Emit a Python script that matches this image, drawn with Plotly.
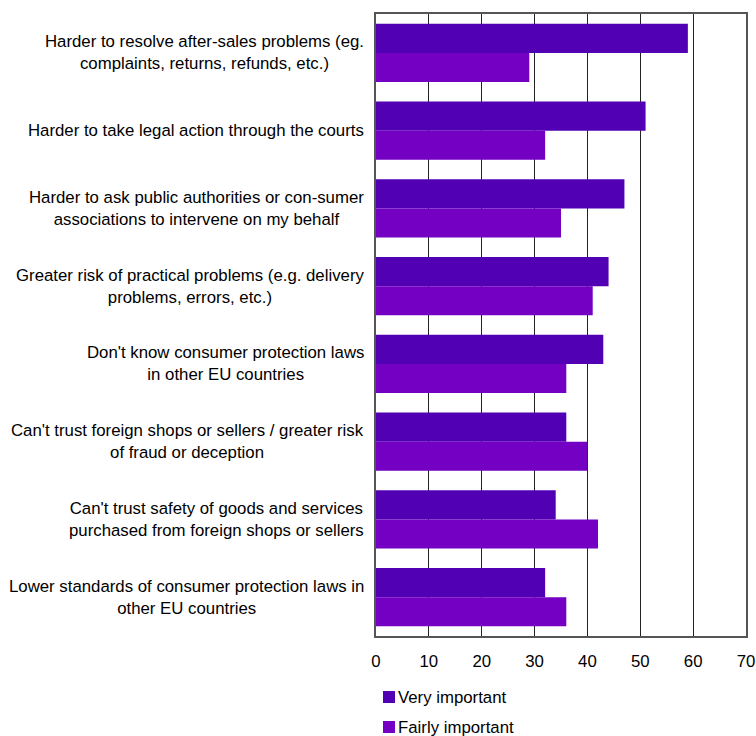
import plotly.graph_objects as go

categories = [
    "Harder to resolve after-sales problems (eg.<br>complaints, returns, refunds, etc.)",
    "Harder to take legal action through the courts",
    "Harder to ask public authorities or con-sumer<br>associations to intervene on my behalf",
    "Greater risk of practical problems (e.g. delivery<br>problems, errors, etc.)",
    "Don't know consumer protection laws<br>in other EU countries",
    "Can't trust foreign shops or sellers / greater risk<br>of fraud or deception",
    "Can't trust safety of goods and services<br>purchased from foreign shops or sellers",
    "Lower standards of consumer protection laws in<br>other EU countries",
]
very_important = [59, 51, 47, 44, 43, 36, 34, 32]
fairly_important = [29, 32, 35, 41, 36, 40, 42, 36]
x_ticks = [0, 10, 20, 30, 40, 50, 60, 70]
series_names = ["Very important", "Fairly important"]
series_colors = ["#5200B4", "#7300C3"]

FONT = "Liberation Sans, Arial, sans-serif"
FS = 16.8

fig = go.Figure()
for name, vals, col in zip(series_names, [very_important, fairly_important], series_colors):
    fig.add_trace(go.Bar(
        y=categories, x=vals, orientation="h", name=name,
        marker=dict(color=col, line_width=0), showlegend=False,
    ))

# category labels drawn as centred multi-line annotations
for cat in categories:
    fig.add_annotation(
        x=0, xref="paper", y=cat, yref="y",
        text=cat, showarrow=False, xanchor="right", xshift=-10,
        align="center", font=dict(family=FONT, size=FS, color="#000"),
    )

# compact legend below the axis: colour square plus label
for i, (name, col) in enumerate(zip(series_names, series_colors)):
    cy = -61 - 30 * i
    fig.add_shape(
        type="rect", xref="paper", yref="paper",
        xsizemode="pixel", ysizemode="pixel", xanchor=0, yanchor=0,
        x0=7, x1=19, y0=cy - 6, y1=cy + 6,
        fillcolor=col, line_width=0,
    )
    fig.add_annotation(
        x=0, xref="paper", y=0, yref="paper",
        xanchor="left", yanchor="middle", xshift=20, yshift=cy,
        text=name, showarrow=False,
        font=dict(family=FONT, size=FS, color="#000"),
    )

fig.update_layout(
    width=756, height=736,
    margin=dict(l=376, r=10, t=14, b=100, autoexpand=False),
    paper_bgcolor="white", plot_bgcolor="white",
    barmode="group", bargap=0.25, bargroupgap=0,
    font=dict(family=FONT, size=FS, color="#000"),
    showlegend=False,
    xaxis=dict(
        range=[0, 70], tickvals=x_ticks, showgrid=True, automargin=False,
        gridcolor="#222", gridwidth=1, zeroline=False,
        showline=True, linecolor="#555", linewidth=1.5, mirror=True,
        ticks="", ticklabelstandoff=9,
        tickfont=dict(family=FONT, size=FS, color="#000"),
    ),
    yaxis=dict(
        autorange="reversed", showticklabels=False, ticks="", automargin=False,
        showgrid=False, zeroline=False,
        showline=True, linecolor="#555", linewidth=1.5, mirror=True,
    ),
)

fig.write_html("out.html")
